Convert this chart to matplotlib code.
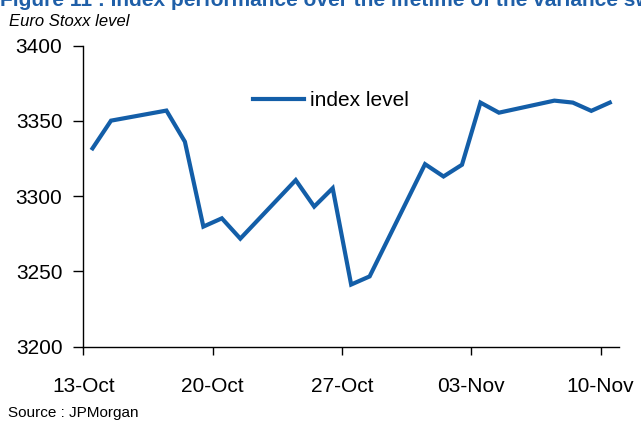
import matplotlib
matplotlib.use("Agg")
import matplotlib.pyplot as plt
import matplotlib.dates as mdates
import numpy as np
import pandas as pd

dates = ["2005-10-13", "2005-10-14", "2005-10-17", "2005-10-18", "2005-10-19",
         "2005-10-20", "2005-10-21", "2005-10-24", "2005-10-25", "2005-10-26",
         "2005-10-27", "2005-10-28", "2005-10-31", "2005-11-01", "2005-11-02",
         "2005-11-03", "2005-11-04", "2005-11-07", "2005-11-08", "2005-11-09",
         "2005-11-10"]
index_level = [3331.8, 3350.2, 3356.9, 3336.2, 3279.8,
               3285.3, 3271.8, 3310.7, 3293.1, 3305.3,
               3241.3, 3246.7, 3321.3, 3313.1, 3320.9,
               3362.2, 3355.5, 3363.5, 3362.2, 3356.7,
               3362.2]
tick_dates = ["2005-10-13", "2005-10-20", "2005-10-27", "2005-11-03", "2005-11-10"]
y_ticks = [3200, 3250, 3300, 3350, 3400]

FONT = ['Liberation Sans', 'DejaVu Sans']
plt.rcParams['font.family'] = FONT
BLUE = '#135EA8'

fig = plt.figure(figsize=(6.41, 4.24), dpi=100)
W, H = 641, 424
ax = fig.add_axes([83.3 / W, 1 - 346.7 / H, (619 - 83.3) / W, (346.7 - 45.7) / H])

x = mdates.date2num(pd.to_datetime(dates)) + 0.5
ax.plot(x, index_level, color=BLUE, lw=3.0, solid_joinstyle='miter', label='index level')

ax.set_xlim(mdates.date2num(pd.Timestamp("2005-10-13")), mdates.date2num(pd.Timestamp("2005-11-11")))
ax.set_ylim(3200, 3400)
ax.set_yticks(y_ticks)
ax.set_xticks(mdates.date2num(pd.to_datetime(tick_dates)))
ax.xaxis.set_major_formatter(mdates.DateFormatter('%d-%b'))

for s in ['top', 'right']:
    ax.spines[s].set_visible(False)
for s in ['left', 'bottom']:
    ax.spines[s].set_linewidth(1.0)
    ax.spines[s].set_color('black')

ax.tick_params(axis='y', direction='out', length=7, width=1, labelsize=15, pad=8)
ax.tick_params(axis='x', direction='out', length=6, width=1, labelsize=15, pad=16)

leg = ax.legend(loc='upper left', bbox_to_anchor=(0.301, 0.876), frameon=False,
                fontsize=15, handlelength=2.45, handletextpad=0.3, borderaxespad=0)

fig.text(0.0, 1.0, "Figure 11 : Index performance over the lifetime of the variance swap",
         color='#1F5FA8', fontsize=15, fontweight='bold', ha='left', va='center')
fig.text(9 / W, 1 - 21 / H, "Euro Stoxx level", fontsize=12, style='italic',
         ha='left', va='center')
fig.text(8 / W, 1 - 413 / H, "Source : JPMorgan", fontsize=11, ha='left', va='center')

fig.savefig("out.png", dpi=100)
